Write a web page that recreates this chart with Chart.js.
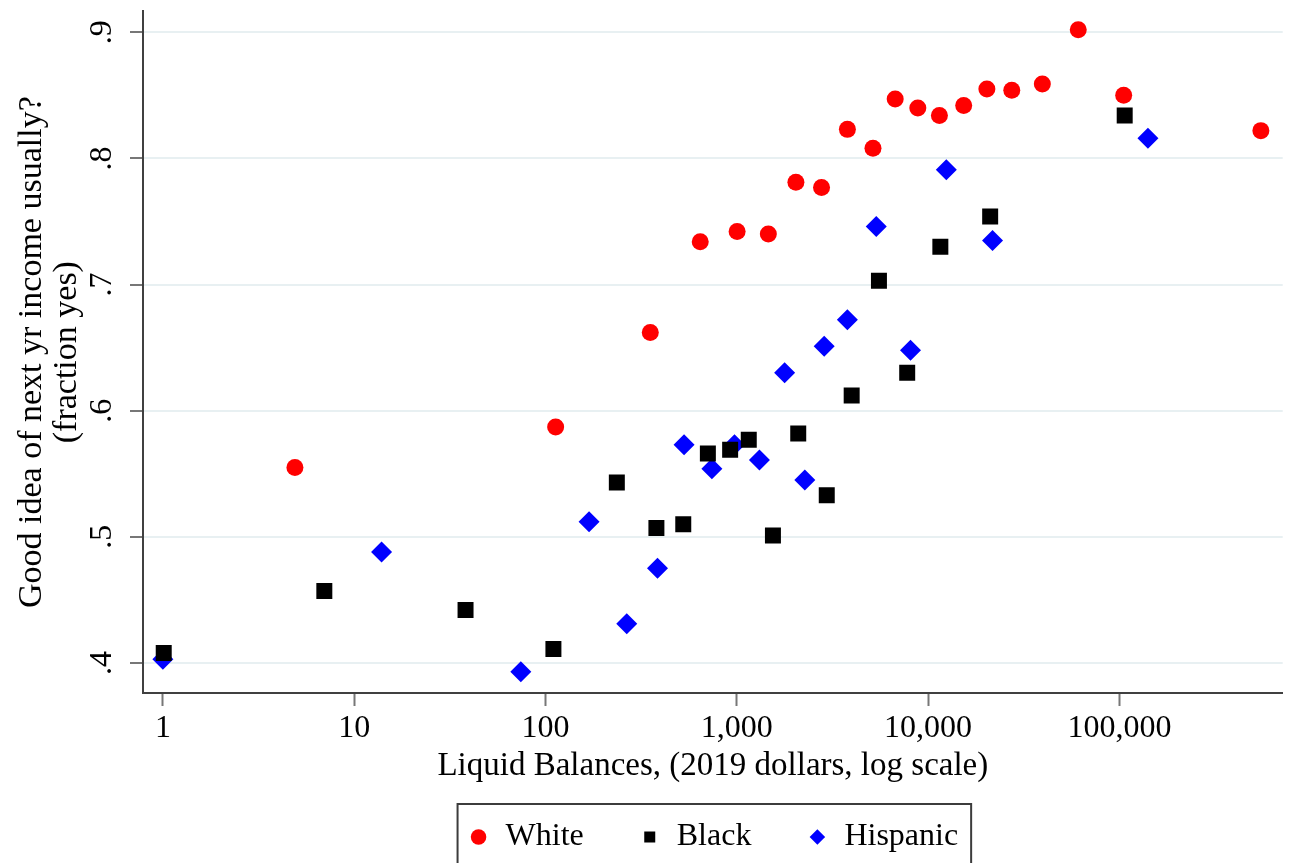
<!DOCTYPE html>
<html>
<head>
<meta charset="utf-8">
<script src="https://cdn.jsdelivr.net/npm/chart.js@4.4.1/dist/chart.umd.min.js"></script>
<style>
html, body { margin: 0; padding: 0; background: #fff; }
#wrap { width: 1294px; height: 863px; }
</style>
</head>
<body>
<div id="wrap"><canvas id="chart"></canvas></div>
<script>
// liquid balances (2019 dollars) and share answering yes
var whiteX = [4.9, 113, 353, 644, 1004, 1462, 2037, 2773, 3786, 5151, 6730, 8837, 11460, 15350, 20290, 27380, 39560, 60940, 105300, 549000];
var whiteY = [.555, .587, .662, .734, .742, .740, .781, .777, .823, .808, .847, .840, .834, .842, .855, .854, .859, .902, .850, .822];

var blackX = [1.01, 6.98, 38.2, 110, 236, 380, 525, 706, 923, 1155, 1545, 2095, 2953, 3986, 5535, 7777, 11590, 21110, 106600];
var blackY = [.408, .457, .442, .411, .543, .507, .510, .566, .569, .577, .501, .582, .533, .612, .703, .630, .730, .754, .834];

var hispX = [1, 13.9, 74.3, 169, 266, 385, 530, 741, 973, 1313, 1778, 2268, 2863, 3786, 5357, 8090, 12450, 21720, 141000];
var hispY = [.403, .488, .393, .512, .431, .475, .573, .554, .573, .561, .630, .545, .651, .672, .746, .648, .791, .735, .816];

var xTicks = [1, 10, 100, 1000, 10000, 100000];
var xTickLabels = ['1', '10', '100', '1,000', '10,000', '100,000'];
var yTicks = [.4, .5, .6, .7, .8, .9];
var yTickLabels = ['.4', '.5', '.6', '.7', '.8', '.9'];

var FONT = 'Liberation Serif';
var LEGEND_GAP = 55;

function toPoints(xs, ys) {
	var pts = [];
	for (var i = 0; i < xs.length; i++) {
		pts.push({ x: xs[i], y: ys[i] });
	}
	return pts;
}

function labelFor(values, labels, v) {
	for (var i = 0; i < values.length; i++) {
		if (Math.abs(values[i] - v) < 1e-9 * Math.max(1, values[i])) return labels[i];
	}
	return '';
}

// stata style frame round the legend
var legendBox = {
	id: 'legendBox',
	afterDraw: function(chart) {
		var boxes = chart.legend.legendHitBoxes;
		if (!boxes || !boxes.length) return;
		var first = boxes[0], last = boxes[boxes.length - 1];
		var ctx = chart.ctx;
		ctx.save();
		ctx.strokeStyle = '#3c3c3c';
		ctx.lineWidth = 2;
		ctx.strokeRect(first.left - 10, first.top - 17, last.left + last.width - first.left + 23, 90);
		ctx.restore();
	}
};

new Chart(document.getElementById('chart'), {
	type: 'scatter',
	data: {
		datasets: [
			{ label: 'White', data: toPoints(whiteX, whiteY), pointStyle: 'circle', pointRadius: 8.5,
				backgroundColor: '#ff0000', borderColor: '#ff0000', borderWidth: 0 },
			{ label: 'Black', data: toPoints(blackX, blackY), pointStyle: 'rect', pointRadius: 11.3,
				backgroundColor: '#000000', borderColor: '#000000', borderWidth: 0 },
			{ label: 'Hispanic', data: toPoints(hispX, hispY), pointStyle: 'rectRot', pointRadius: 10.5,
				backgroundColor: '#0000ff', borderColor: '#0000ff', borderWidth: 0 }
		]
	},
	options: {
		responsive: true,
		maintainAspectRatio: false,
		animation: false,
		devicePixelRatio: 1,
		events: [],
		layout: { padding: { top: 4, right: 7, left: 0, bottom: 0 } },
		plugins: {
			tooltip: { enabled: false },
			legend: {
				position: 'bottom',
				fullSize: false,
				labels: {
					usePointStyle: true,
					boxWidth: 22,
					boxHeight: 11,
					padding: LEGEND_GAP,
					color: '#000',
					font: { family: FONT, size: 32 }
				}
			}
		},
		scales: {
			x: {
				type: 'logarithmic',
				min: 0.787,
				max: 714000,
				afterBuildTicks: function(scale) {
					scale.ticks = xTicks.map(function(v) { return { value: v }; });
				},
				// legend takes 42 + gap, the rest of the 170px below the plot is the axis
				afterFit: function(scale) { scale.height = 128 - LEGEND_GAP; },
				border: { color: '#404040', width: 2 },
				grid: { drawOnChartArea: false, drawTicks: true, tickLength: 13, tickColor: '#777', tickWidth: 2 },
				ticks: {
					autoSkip: false,
					maxRotation: 0,
					padding: 3,
					color: '#000',
					font: { family: FONT, size: 32 },
					callback: function(v) { return labelFor(xTicks, xTickLabels, v); }
				},
				title: {
					display: true,
					text: 'Liquid Balances, (2019 dollars, log scale)',
					color: '#000',
					font: { family: FONT, size: 33, lineHeight: 0.9 },
					padding: { top: 0, bottom: -15 }
				}
			},
			y: {
				min: 0.3762,
				max: 0.9166,
				afterBuildTicks: function(scale) {
					scale.ticks = yTicks.map(function(v) { return { value: v }; });
				},
				afterFit: function(scale) {
					scale.width = 143;
					// rotated labels would otherwise push the plot top down
					scale.paddingTop = 0;
					scale.paddingBottom = 0;
				},
				border: { color: '#404040', width: 2 },
				grid: { color: '#e8f0f2', lineWidth: 2, tickLength: 13, tickColor: '#777', tickWidth: 2 },
				ticks: {
					minRotation: 90,
					maxRotation: 90,
					crossAlign: 'center',
					padding: 15,
					color: '#000',
					font: { family: FONT, size: 32 },
					callback: function(v) { return labelFor(yTicks, yTickLabels, v); }
				},
				title: {
					display: true,
					text: ['Good idea of next yr income usually?', '(fraction yes)'],
					color: '#000',
					font: { family: FONT, size: 34, lineHeight: 1.05 },
					padding: { top: 14, bottom: 0 }
				}
			}
		}
	},
	plugins: [legendBox]
});
</script>
</body>
</html>
